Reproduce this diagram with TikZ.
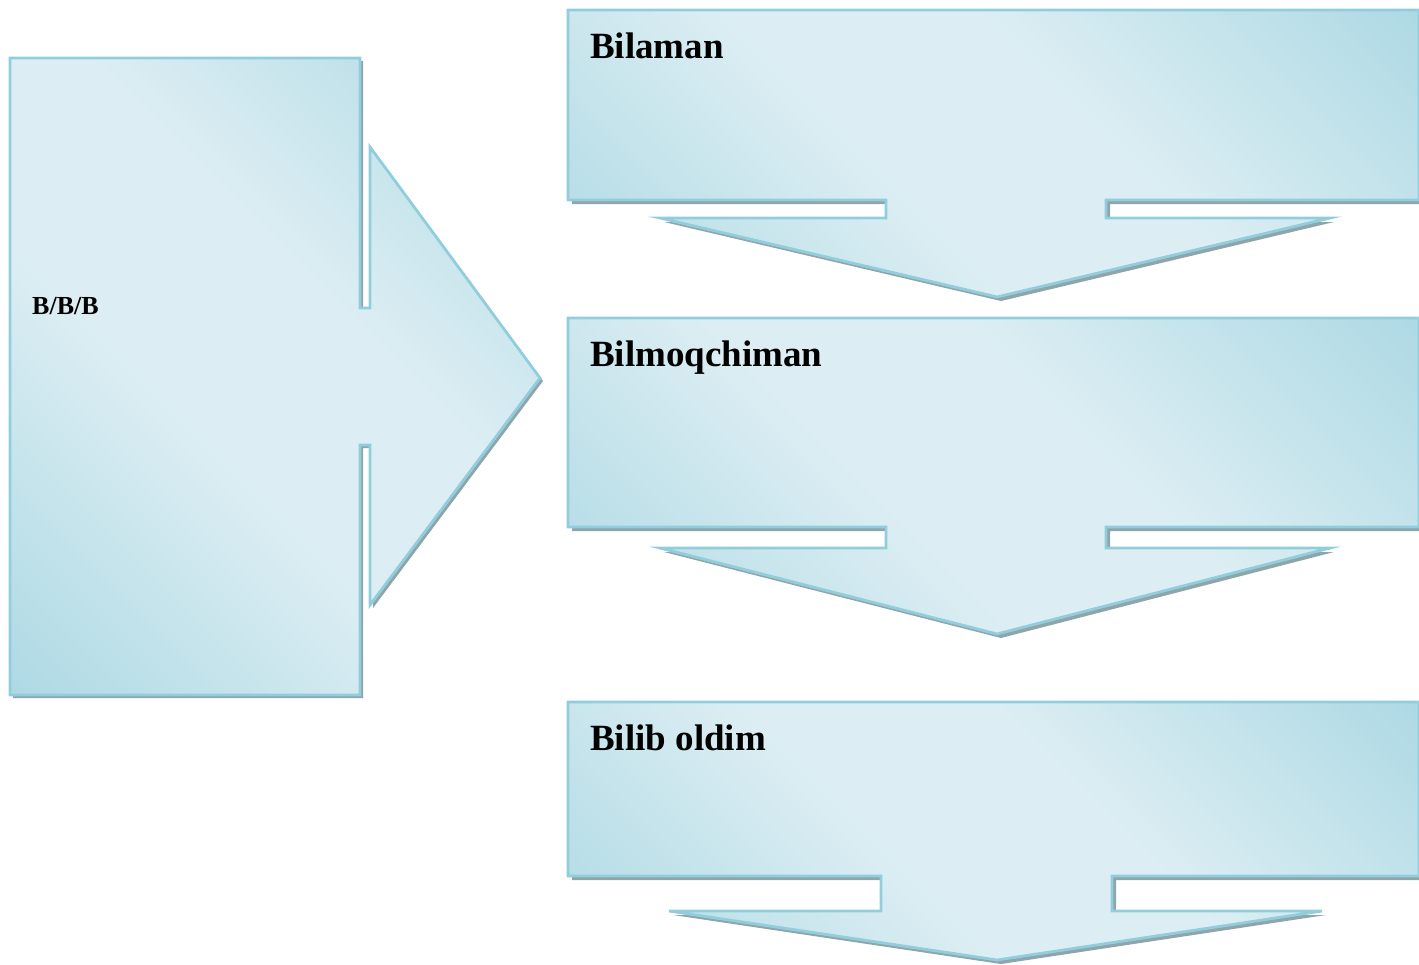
\documentclass[tikz,border=0pt]{standalone}
\usepackage{fontspec}
\setmainfont{Liberation Serif}
\definecolor{edge}{HTML}{92CDDC}
\definecolor{lite}{HTML}{DCEEF3}
\definecolor{dark}{HTML}{95CEDC}
\definecolor{shad}{HTML}{8DA5AB}
\pgfdeclarehorizontalshading{bluediag}{100bp}{color(0bp)=(dark); color(42bp)=(lite); color(58bp)=(lite); color(100bp)=(dark)}
\tikzset{
  callout/.style={draw=edge, line width=2.8pt, line join=miter},
  calloutfill/.style={shading=bluediag, shading angle=45},
  shadowpath/.style={fill=shad, draw=none},
  bigtext/.style={anchor=base west, inner sep=0pt, font=\fontsize{37}{40}\selectfont\bfseries},
  smalltext/.style={anchor=base west, inner sep=0pt, font=\fontsize{26}{28}\selectfont\bfseries}
}
\begin{document}
\begin{tikzpicture}[x=1pt,y=-1pt]
\useasboundingbox (0,0) rectangle (1419,964);
% left callout
\def\leftshape{(10,58) -- (360,58) -- (360,308) -- (370,308) -- (370,147) -- (540,378) -- (370,605) -- (370,445) -- (360,445) -- (360,695) -- (10,695) -- cycle}
\fill[shadowpath, shift={(3,3)}] \leftshape;
\shade[calloutfill] \leftshape;
\draw[callout] \leftshape;
% callout 1
\def\cone{(568,10) -- (1419,10) -- (1419,200) -- (1106,200) -- (1106,218) -- (1330,218) -- (997,297) -- (660,218) -- (886,218) -- (886,200) -- (568,200) -- cycle}
\fill[shadowpath, shift={(4,4)}] \cone;
\shade[calloutfill] \cone;
\draw[callout] \cone;
% callout 2
\def\ctwo{(568,318) -- (1419,318) -- (1419,527) -- (1106,527) -- (1106,548) -- (1330,548) -- (997,634) -- (660,548) -- (886,548) -- (886,527) -- (568,527) -- cycle}
\fill[shadowpath, shift={(4,4)}] \ctwo;
\shade[calloutfill] \ctwo;
\draw[callout] \ctwo;
% callout 3
\def\cthree{(568,702) -- (1419,702) -- (1419,876) -- (1112,876) -- (1112,911) -- (1322,911) -- (997,960) -- (669,911) -- (881,911) -- (881,876) -- (568,876) -- cycle}
\fill[shadowpath, shift={(4,4)}] \cthree;
\shade[calloutfill] \cthree;
\draw[callout] \cthree;
% texts
\node[smalltext] (bbb) at (32,314) {B/B/B};
\node[bigtext] (t1) at (590,58) {Bilaman};
\node[bigtext] (t2) at (590,366) {Bilmoqchiman};
\node[bigtext] (t3) at (590,750) {Bilib oldim};
\end{tikzpicture}
\end{document}
